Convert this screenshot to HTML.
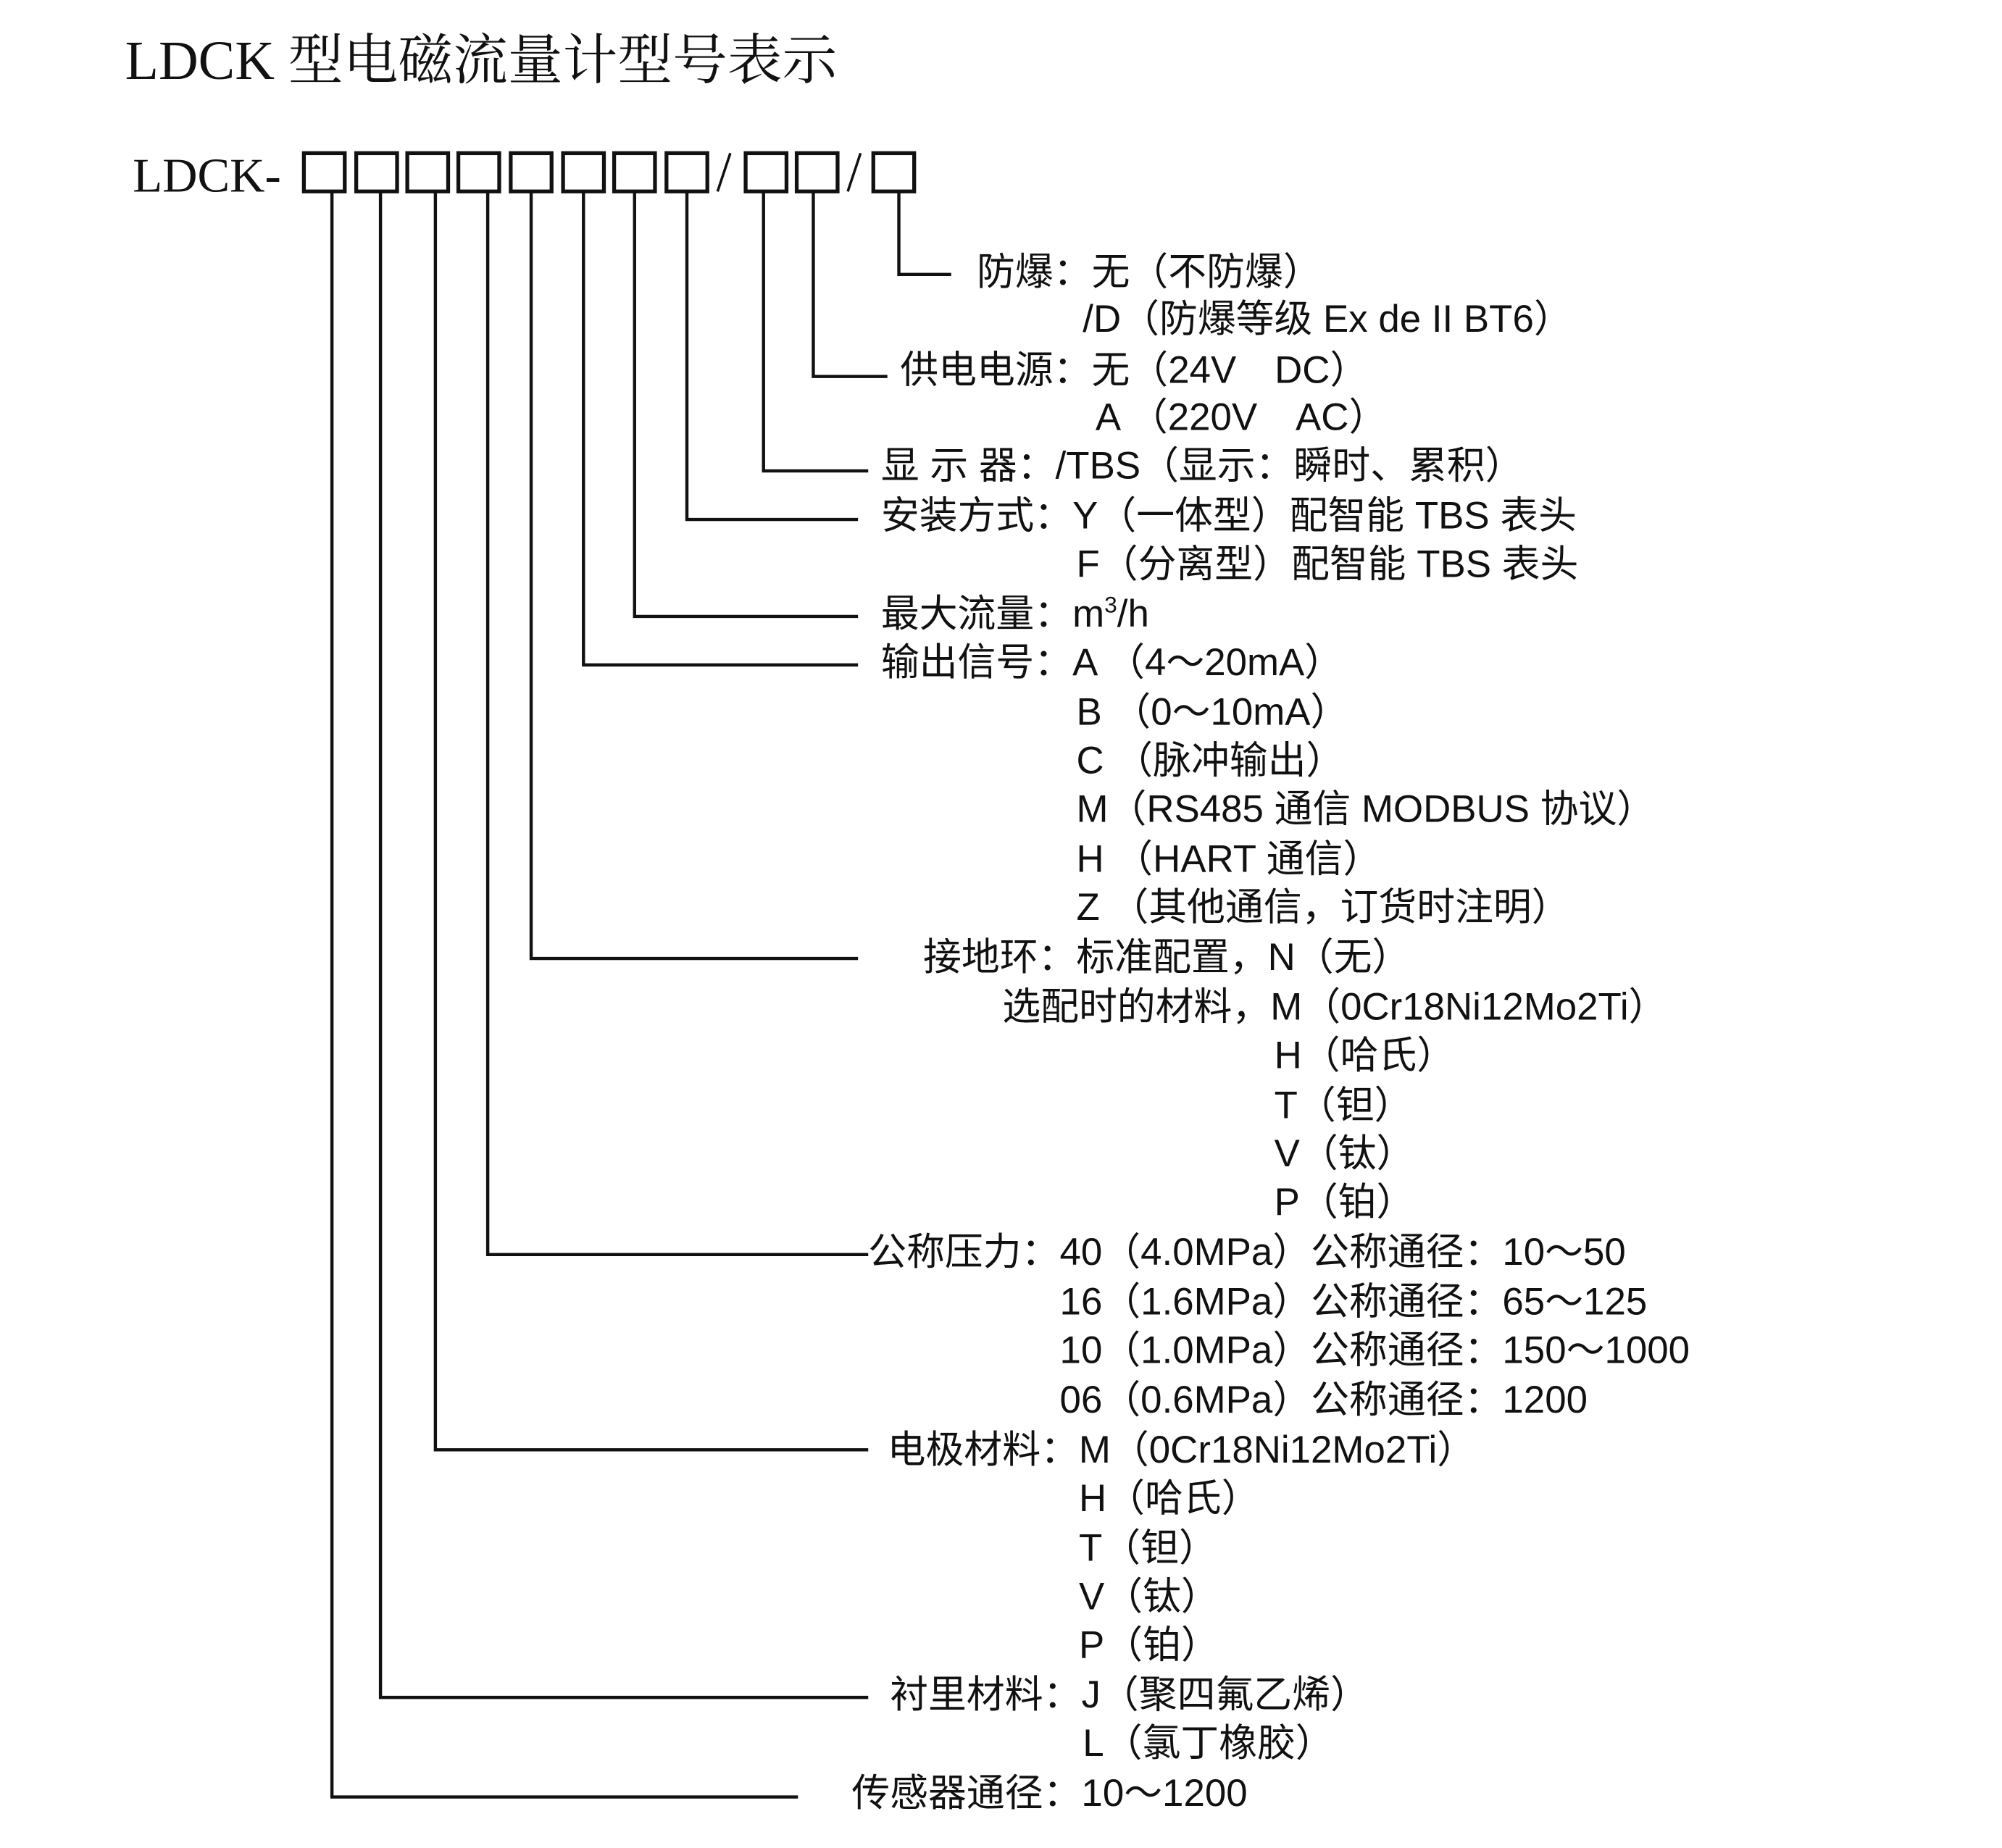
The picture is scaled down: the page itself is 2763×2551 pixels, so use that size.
<!DOCTYPE html>
<html><head><meta charset="utf-8"><style>
html,body{margin:0;padding:0;background:#fff;}
svg{display:block;}
text{font-family:"Liberation Sans","Noto Sans CJK SC",sans-serif;font-size:30px;fill:#111;}
.t{font-family:"Liberation Serif","Noto Serif CJK SC",serif;font-size:43px;}
.c{font-family:"Liberation Serif","Noto Serif CJK SC",serif;font-size:38px;}
</style></head><body>
<svg width="2763" height="2551" viewBox="0 0 1568 1448" preserveAspectRatio="none" xmlns="http://www.w3.org/2000/svg">
<text class="t" x="98" y="62">LDCK 型电磁流量计型号表示</text>
<text class="c" x="104" y="150">LDCK-</text>
<g fill="none" stroke="#111" stroke-width="3">
<rect x="238" y="120" width="32" height="30"/>
<rect x="279" y="120" width="32" height="30"/>
<rect x="319" y="120" width="32" height="30"/>
<rect x="359" y="120" width="32" height="30"/>
<rect x="400" y="120" width="32" height="30"/>
<rect x="441" y="120" width="32" height="30"/>
<rect x="481" y="120" width="32" height="30"/>
<rect x="522" y="120" width="32" height="30"/>
<rect x="584" y="120" width="32" height="30"/>
<rect x="624" y="120" width="32" height="30"/>
<rect x="684" y="120" width="32" height="30"/>
</g>
<g stroke="#111" stroke-width="2">
<line x1="562" y1="150" x2="572" y2="120"/>
<line x1="664" y1="150" x2="674" y2="120"/>
</g>
<g fill="none" stroke="#111" stroke-width="2.5">
<polyline points="704,150 704,215 745,215"/>
<polyline points="637,150 637,295 695,295"/>
<polyline points="598,150 598,369 680,369"/>
<polyline points="538,150 538,407 672,407"/>
<polyline points="497,150 497,483 672,483"/>
<polyline points="457,150 457,521 672,521"/>
<polyline points="416,150 416,751 672,751"/>
<polyline points="382,150 382,983 680,983"/>
<polyline points="341,150 341,1136 680,1136"/>
<polyline points="298,150 298,1330 680,1330"/>
<polyline points="260,150 260,1408 625,1408"/>
</g>
<text x="765" y="223">防爆：无（不防爆）</text>
<text x="848" y="260">/D（防爆等级 Ex de II BT6）</text>
<text x="705" y="300">供电电源：无（24V　DC）</text>
<text x="858" y="337">A （220V　AC）</text>
<text x="690" y="375">显 示 器：/TBS（显示：瞬时、累积）</text>
<text x="690" y="414">安装方式：Y（一体型）配智能 TBS 表头</text>
<text x="843" y="452">F（分离型）配智能 TBS 表头</text>
<text x="690" y="491">最大流量：m<tspan dy="-11" font-size="18">3</tspan><tspan dy="11">/h</tspan></text>
<text x="690" y="529">输出信号：A （4～20mA）</text>
<text x="843" y="568">B （0～10mA）</text>
<text x="843" y="606">C （脉冲输出）</text>
<text x="843" y="644">M（RS485 通信  MODBUS 协议）</text>
<text x="843" y="683">H （HART 通信）</text>
<text x="843" y="721">Z （其他通信，订货时注明）</text>
<text x="723" y="760">接地环：标准配置，N（无）</text>
<text x="785" y="799">选配时的材料，M（0Cr18Ni12Mo2Ti）</text>
<text x="998" y="837">H（哈氏）</text>
<text x="998" y="876">T（钽）</text>
<text x="998" y="914">V（钛）</text>
<text x="998" y="952">P（铂）</text>
<text x="680" y="991">公称压力：40（4.0MPa）公称通径：10～50</text>
<text x="830" y="1030">16（1.6MPa）公称通径：65～125</text>
<text x="830" y="1068">10（1.0MPa）公称通径：150～1000</text>
<text x="830" y="1107">06（0.6MPa）公称通径：1200</text>
<text x="695" y="1146">电极材料：M（0Cr18Ni12Mo2Ti）</text>
<text x="845" y="1184">H（哈氏）</text>
<text x="845" y="1223">T（钽）</text>
<text x="845" y="1261">V（钛）</text>
<text x="845" y="1299">P（铂）</text>
<text x="697" y="1338">衬里材料：J（聚四氟乙烯）</text>
<text x="848" y="1376">L（氯丁橡胶）</text>
<text x="667" y="1415">传感器通径：10～1200</text>
</svg>
</body></html>
